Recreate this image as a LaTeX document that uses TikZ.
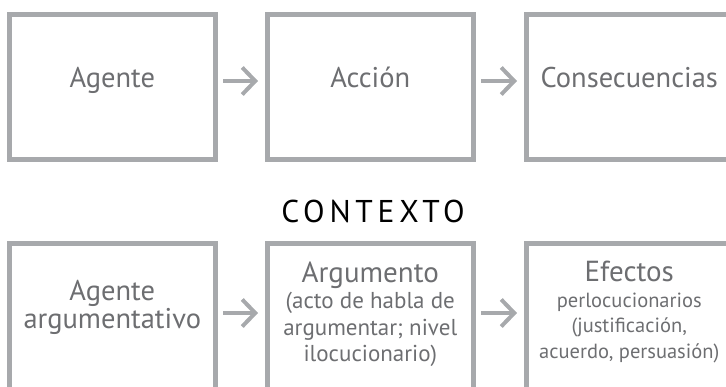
\documentclass[tikz,border=0pt]{standalone}
\usepackage{fontspec}
\setmainfont{PT Sans}
\usepackage{tikz}
\usetikzlibrary{arrows.meta}

\definecolor{boxgray}{HTML}{A7A9AC}
\definecolor{textgray}{HTML}{6D6E71}

\tikzset{
	box/.style={draw=boxgray, line width=5pt, minimum width=205.5pt, minimum height=145.5pt, inner sep=0pt},
	lowbox/.style={box, minimum height=160pt},
	label text/.style={text=textgray, inner sep=0pt, align=center, font=\fontsize{28.5}{28}\selectfont},
	small text/.style={text=textgray, inner sep=0pt, align=center, font=\fontsize{23}{26.5}\selectfont},
	smaller text/.style={small text, font=\fontsize{20.5}{25.5}\selectfont},
	next/.style={draw=boxgray, line width=4pt, -{Straight Barb[length=13pt,width=27pt]}, shorten <=5.5pt, shorten >=7pt}
}
\newcommand{\headline}[1]{{\fontsize{29}{26}\selectfont #1}}

\begin{document}
\begin{tikzpicture}[x=1pt, y=1pt]
		\useasboundingbox (0,0) rectangle (726,-386);

		% upper row
		\node[box] (agent) at (112.25,-86.75) {};
		\node[box] (action) at (370.25,-86.75) {};
		\node[box] (conseq) at (629.25,-86.75) {};
		\node[label text, anchor=base] (agenttext) at (112.25,-87) {Agente};
		\node[label text, anchor=base] (actiontext) at (370.25,-87) {Acción};
		\node[label text, anchor=base] (conseqtext) at (629.25,-87) {Consecuencias};
		\draw[next] ([yshift=5.75pt]agent.east) -- ([yshift=5.75pt]action.west);
		\draw[next] ([yshift=5.75pt]action.east) -- ([yshift=5.75pt]conseq.west);

		\node[inner sep=0pt, font=\fontsize{31.5}{32}\selectfont\addfontfeature{LetterSpace=15}] (context) at (373,-211) {CONTEXTO};

		% lower row
		\node[lowbox] (argagent) at (112.25,-323.5) {};
		\node[lowbox] (argument) at (370.25,-323.5) {};
		\node[lowbox] (effects) at (629.25,-323.5) {};
		\node[label text] (argagenttext) at (112.25,-307) {Agente\\argumentativo};
		\node[small text] (argumenttext) at (370.25,-314) {\headline{Argumento}\\(acto de habla de\\argumentar; nivel\\ilocucionario)};
		\node[smaller text] (effectstext) at (629.25,-312) {\headline{Efectos}\\perlocucionarios\\(justificación,\\acuerdo, persuasión)};
		\draw[next] ([yshift=10.5pt]argagent.east) -- ([yshift=10.5pt]argument.west);
		\draw[next] ([yshift=10.5pt]argument.east) -- ([yshift=10.5pt]effects.west);
	\end{tikzpicture}
\end{document}
